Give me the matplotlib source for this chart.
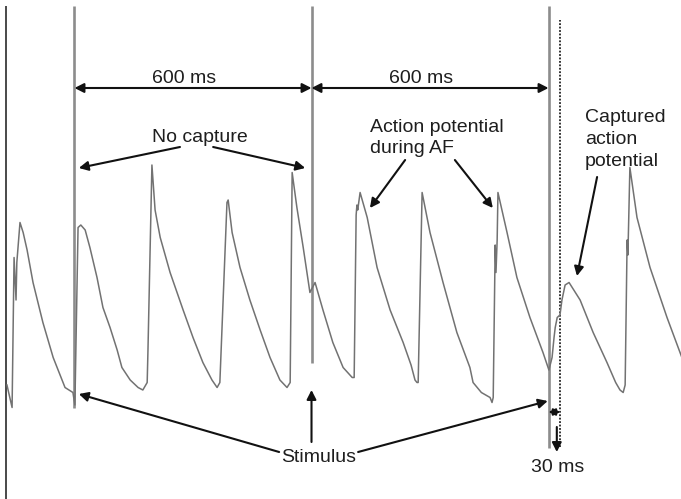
import matplotlib
matplotlib.use("Agg")
import matplotlib.pyplot as plt

plt.rcParams['font.family'] = ['Liberation Sans', 'DejaVu Sans']

# --- Membrane potential trace (ms, mV) ---
time_ms = [-171, -158, -153, -148, -146, -138, -130, -120, -105, -80, -54, -24, -4,
           1, 9, 16, 27, 39, 57, 72, 90, 108, 120, 141, 161, 173, 184, 186,
           196, 204, 217, 242, 275, 300, 325, 348, 361, 368,
           386, 389, 399, 419, 444, 470, 495, 520, 538, 546,
           551, 563, 579, 596, 609, 629, 654, 680, 703, 708,
           713, 715, 717, 723, 741, 766, 799, 832, 852, 862, 867, 870,
           880, 900, 933, 968, 1001, 1009, 1030, 1052, 1057, 1060,
           1065, 1067, 1070, 1072, 1095, 1120, 1153, 1186, 1201,
           1209, 1214, 1217, 1222, 1229, 1234, 1242, 1252, 1280, 1313, 1348, 1370, 1381, 1389,
           1394, 1399, 1401, 1406, 1424, 1457, 1500, 1540]
vm_mv = [-74, -83, -23, -40, -25, -9, -13, -20, -33, -49, -63, -75, -77,
         -82, -11, -10, -12, -19, -31, -43, -51, -60, -67, -72, -75, -76, -73, -60,
         14, -4, -15, -29, -44, -55, -65, -72, -75, -73,
         -1, 0, -13, -27, -40, -52, -63, -72, -75, -73,
         11, -3, -19, -37, -33, -44, -57, -67, -71, -71,
         -6, -2, -4, 3, -7, -27, -44, -57, -66, -72, -73, -73,
         3, -13, -33, -53, -67, -73, -77, -79, -81, -79,
         -18, -29, -16, 3, -13, -31, -47, -61, -68,
         -63, -55, -51, -47, -46, -40, -34, -33, -40, -53, -65, -73, -76, -77,
         -74, -16, -22, 13, -7, -27, -47, -64]

# --- Stimuli and capture ---
stim_ms = [0, 600, 1200]
stim_bottom_mv = [-83, -65, -99]
capture_ms = 1230
stim_top_mv = 77.6

fig = plt.figure(figsize=(6.81, 4.99), dpi=100)
ax = fig.add_axes([0, 0, 1, 1])
ax.set_xlim(-188.6, 1535.4)
ax.set_ylim(-119.6, 80)
ax.axis('off')

# left border
ax.vlines(-173.4, -119.6, stim_top_mv, color='#3a3a3a', lw=1.3)

# stimulus artefacts
for t, vb in zip(stim_ms, stim_bottom_mv):
    ax.vlines(t, vb, stim_top_mv, color='#8c8c8c', lw=1.9)

ax.vlines(capture_ms, -98.8, 72, color='#222222', lw=1.3, linestyles=(0, (1, 0.9)))

ax.plot(time_ms, vm_mv, color='#727272', lw=1.1, solid_joinstyle='round')

txt = dict(fontsize=14, color='#1e1e1e')
dbl = dict(arrowstyle='<|-|>,head_length=0.55,head_width=0.28', color='#111111',
           lw=1.5, shrinkA=0, shrinkB=0, mutation_scale=10)
one = dict(arrowstyle='-|>,head_length=0.55,head_width=0.28', color='#111111',
           lw=1.5, shrinkA=0, shrinkB=0, mutation_scale=10)

# 600 ms intervals
for a, b in zip(stim_ms[:-1], stim_ms[1:]):
    ax.annotate('', xy=(a, 44.8), xytext=(b, 44.8), arrowprops=dbl)
    ax.text((a + b) / 2 - 23, 48.8, f'{b - a} ms', ha='center', va='center', **txt)

# no capture
ax.text(318, 25.2, 'No capture', ha='center', va='center', **txt)
ax.annotate('', xy=(11, 12.8), xytext=(267, 21.2), arrowprops=one)
ax.annotate('', xy=(584, 12.8), xytext=(351, 21.2), arrowprops=one)

# action potentials during AF
ax.text(748, 24.8, 'Action potential\nduring AF', ha='left', va='center',
        linespacing=1.35, **txt)
ax.annotate('', xy=(748, -3.2), xytext=(837, 16), arrowprops=one)
ax.annotate('', xy=(1059, -3.2), xytext=(963, 16), arrowprops=one)

# captured beat
ax.text(1292, 24.2, 'Captured\naction\npotential', ha='left', va='center',
        linespacing=1.35, **txt)
ax.annotate('', xy=(1272, -30.4), xytext=(1323, 9.2), arrowprops=one)

# stimulus pointers
ax.text(619, -102.8, 'Stimulus', ha='center', va='center', **txt)
ax.annotate('', xy=(11, -77.6), xytext=(518, -100.8), arrowprops=one)
ax.annotate('', xy=(600, -76), xytext=(600, -96.8), arrowprops=one)
ax.annotate('', xy=(1198, -80.4), xytext=(718, -100.8), arrowprops=one)

# 30 ms delay
ax.annotate('', xy=(stim_ms[-1], -84.8), xytext=(capture_ms, -84.8),
            arrowprops=dict(dbl, mutation_scale=7))
ax.annotate('', xy=(1221, -100.8), xytext=(1221, -90.8), arrowprops=one)
ax.text(1224, -106.8, f'{capture_ms - stim_ms[-1]} ms', ha='center', va='center', **txt)

fig.savefig('out.png', dpi=100)
